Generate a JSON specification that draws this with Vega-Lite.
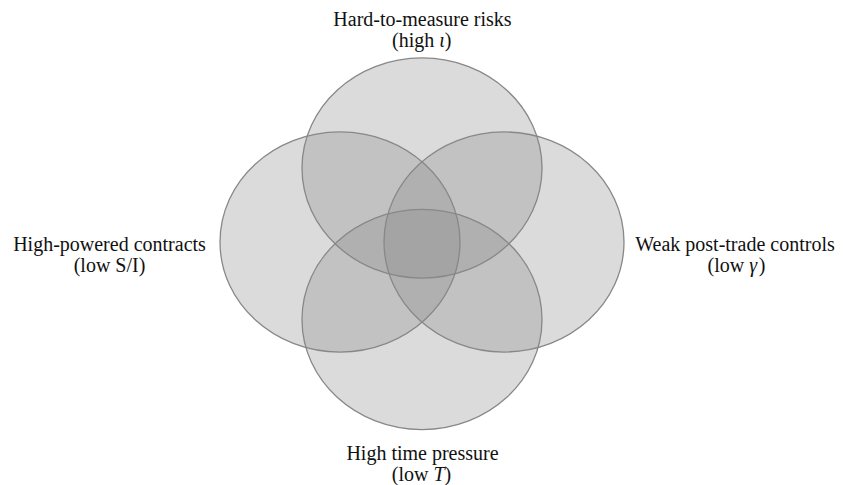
{
  "$schema": "https://vega.github.io/schema/vega-lite/v6.json",
  "width": 843,
  "height": 485,
  "autosize": {"type": "fit", "contains": "padding"},
  "padding": 0,
  "background": "white",
  "config": {"view": {"stroke": null}},
  "layer": [
    {
      "data": {"values": [
        {"set": "Hard-to-measure risks", "cx": 422, "cy": 168},
        {"set": "High-powered contracts", "cx": 340, "cy": 242},
        {"set": "Weak post-trade controls", "cx": 504, "cy": 242},
        {"set": "High time pressure", "cx": 422, "cy": 319.5}
      ]},
      "mark": {
        "type": "point",
        "shape": "M -1 0 A 1 0.917 0 1 1 1 0 A 1 0.917 0 1 1 -1 0 Z",
        "size": 57600,
        "filled": true,
        "fill": "#878787",
        "fillOpacity": 0.3,
        "opacity": 1,
        "stroke": "#888888",
        "strokeWidth": 1.3,
        "strokeOpacity": 1
      },
      "encoding": {
        "x": {"field": "cx", "type": "quantitative", "scale": {"domain": [0, 843], "nice": false, "zero": false}, "axis": null},
        "y": {"field": "cy", "type": "quantitative", "scale": {"domain": [0, 485], "nice": false, "zero": false, "reverse": true}, "axis": null}
      }
    },
    {
      "data": {"values": [
        {"t": "Hard-to-measure risks", "x": 422.5, "y": 26},
        {"t": "High-powered contracts", "x": 109.5, "y": 251},
        {"t": "(low S/I)", "x": 109.5, "y": 272},
        {"t": "Weak post-trade controls", "x": 735, "y": 251},
        {"t": "High time pressure", "x": 422.5, "y": 460}
      ]},
      "mark": {"type": "text", "align": "center", "baseline": "alphabetic", "font": "Liberation Serif", "fontSize": 20, "color": "#111111"},
      "encoding": {
        "x": {"field": "x", "type": "quantitative", "scale": {"domain": [0, 843], "nice": false, "zero": false}, "axis": null},
        "y": {"field": "y", "type": "quantitative", "scale": {"domain": [0, 485], "nice": false, "zero": false, "reverse": true}, "axis": null},
        "text": {"field": "t", "type": "nominal"}
      }
    },
    {
      "data": {"values": [
        {"t": "(high ", "x": 392, "y": 47},
        {"t": ")", "x": 444.8, "y": 47},
        {"t": "(low ", "x": 707.5, "y": 272},
        {"t": ")", "x": 758.7, "y": 272},
        {"t": "(low ", "x": 391.8, "y": 481},
        {"t": ")", "x": 444.5, "y": 481}
      ]},
      "mark": {"type": "text", "align": "left", "baseline": "alphabetic", "font": "Liberation Serif", "fontSize": 20, "color": "#111111"},
      "encoding": {
        "x": {"field": "x", "type": "quantitative", "scale": {"domain": [0, 843], "nice": false, "zero": false}, "axis": null},
        "y": {"field": "y", "type": "quantitative", "scale": {"domain": [0, 485], "nice": false, "zero": false, "reverse": true}, "axis": null},
        "text": {"field": "t", "type": "nominal"}
      }
    },
    {
      "data": {"values": [
        {"t": "ι", "x": 439.2, "y": 47},
        {"t": "γ", "x": 749.2, "y": 272},
        {"t": "T", "x": 433.4, "y": 481}
      ]},
      "mark": {"type": "text", "align": "left", "baseline": "alphabetic", "font": "Liberation Serif", "fontSize": 20, "fontStyle": "italic", "color": "#111111"},
      "encoding": {
        "x": {"field": "x", "type": "quantitative", "scale": {"domain": [0, 843], "nice": false, "zero": false}, "axis": null},
        "y": {"field": "y", "type": "quantitative", "scale": {"domain": [0, 485], "nice": false, "zero": false, "reverse": true}, "axis": null},
        "text": {"field": "t", "type": "nominal"}
      }
    }
  ]
}
